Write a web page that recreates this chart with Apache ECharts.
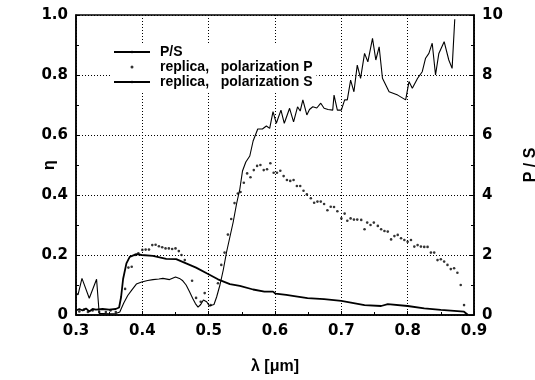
<!DOCTYPE html>
<html>
<head>
<meta charset="utf-8">
<script src="https://cdn.jsdelivr.net/npm/echarts@6/dist/echarts.min.js"></script>
<style>
  html, body { margin: 0; padding: 0; background: #fff; }
  #chart { width: 535px; height: 380px; }
</style>
</head>
<body>
<div id="chart"></div>
<script>
// P/S ratio (right axis), [lambda um, P/S]
const ratioPS = [
  [0.300, 0.75], [0.303, 0.67], [0.309, 1.22], [0.320, 0.56], [0.331, 1.19],
  [0.335, 0.05], [0.340, 0.05], [0.350, 0.04], [0.360, 0.05], [0.366, 0.1],
  [0.372, 0.4], [0.378, 0.65], [0.384, 0.83], [0.391, 1.03], [0.399, 1.1],
  [0.408, 1.15], [0.416, 1.18], [0.425, 1.2], [0.431, 1.22], [0.441, 1.18],
  [0.450, 1.27], [0.456, 1.22], [0.461, 1.14], [0.466, 1.0], [0.471, 0.78],
  [0.476, 0.55], [0.480, 0.38], [0.484, 0.26], [0.488, 0.35], [0.492, 0.5],
  [0.497, 0.44], [0.501, 0.3], [0.504, 0.26], [0.508, 0.35], [0.512, 0.6],
  [0.517, 1.0], [0.522, 1.5], [0.527, 2.1], [0.532, 2.6], [0.537, 3.1],
  [0.542, 3.7], [0.547, 4.2], [0.551, 4.8], [0.556, 5.1], [0.562, 5.3],
  [0.567, 5.8], [0.574, 6.2], [0.581, 6.2], [0.587, 6.3], [0.592, 6.22],
  [0.597, 6.78], [0.602, 6.39], [0.609, 6.83], [0.614, 6.39], [0.622, 6.89],
  [0.628, 6.44], [0.634, 6.94], [0.638, 6.8], [0.642, 7.17], [0.648, 6.67],
  [0.652, 6.85], [0.657, 6.94], [0.663, 6.9], [0.669, 7.06], [0.674, 6.89],
  [0.680, 6.85], [0.687, 6.83], [0.689, 7.33], [0.694, 6.83], [0.700, 6.83],
  [0.705, 7.17], [0.709, 7.17], [0.714, 7.83], [0.719, 7.44], [0.724, 8.33],
  [0.729, 7.89], [0.735, 8.72], [0.740, 8.44], [0.747, 9.22], [0.752, 8.5],
  [0.757, 8.94], [0.762, 7.89], [0.772, 7.44], [0.785, 7.33], [0.797, 7.17],
  [0.802, 7.78], [0.807, 7.56], [0.815, 7.89], [0.822, 8.11], [0.827, 8.56],
  [0.832, 8.72], [0.837, 9.06], [0.842, 8.0], [0.847, 8.72], [0.855, 9.11],
  [0.862, 8.5], [0.867, 8.22], [0.871, 9.86]
];

// replica, polarization S (left axis, eta)
const polS = [
  [0.300, 0.015], [0.305, 0.02], [0.310, 0.015], [0.315, 0.022], [0.320, 0.012],
  [0.325, 0.02], [0.330, 0.018], [0.340, 0.02], [0.350, 0.018], [0.360, 0.02],
  [0.365, 0.025], [0.368, 0.06], [0.371, 0.12], [0.376, 0.172], [0.381, 0.194],
  [0.391, 0.203], [0.399, 0.2], [0.416, 0.197], [0.436, 0.187], [0.451, 0.186],
  [0.466, 0.172], [0.481, 0.158], [0.497, 0.139], [0.514, 0.119], [0.532, 0.103],
  [0.547, 0.097], [0.567, 0.085], [0.584, 0.078], [0.597, 0.078], [0.601, 0.071],
  [0.617, 0.067], [0.629, 0.063], [0.649, 0.056], [0.674, 0.053], [0.700, 0.047],
  [0.735, 0.033], [0.760, 0.03], [0.770, 0.036], [0.800, 0.03], [0.825, 0.022],
  [0.850, 0.017], [0.875, 0.013], [0.885, 0.011], [0.891, 0.0]
];

// replica, polarization P (dots, left axis)
const polP = [
  [0.305, 0.012], [0.312, 0.018], [0.318, 0.01], [0.325, 0.015], [0.335, 0.01],
  [0.345, 0.01], [0.352, 0.015], [0.360, 0.01], [0.374, 0.087], [0.379, 0.158],
  [0.384, 0.161], [0.389, 0.2], [0.394, 0.206], [0.400, 0.217], [0.405, 0.218],
  [0.410, 0.218], [0.415, 0.233], [0.420, 0.234], [0.425, 0.229], [0.430, 0.226],
  [0.435, 0.222], [0.440, 0.222], [0.445, 0.22], [0.450, 0.222], [0.455, 0.213],
  [0.459, 0.2], [0.464, 0.183], [0.475, 0.114], [0.481, 0.057], [0.488, 0.044],
  [0.494, 0.073], [0.503, 0.033], [0.514, 0.106], [0.519, 0.167], [0.524, 0.208],
  [0.529, 0.268], [0.534, 0.32], [0.539, 0.373], [0.544, 0.405], [0.548, 0.41],
  [0.553, 0.441], [0.558, 0.472], [0.563, 0.459], [0.568, 0.483], [0.573, 0.497],
  [0.578, 0.5], [0.583, 0.483], [0.588, 0.486], [0.593, 0.506], [0.598, 0.474],
  [0.603, 0.474], [0.608, 0.481], [0.613, 0.463], [0.618, 0.45], [0.623, 0.447],
  [0.628, 0.45], [0.633, 0.43], [0.638, 0.43], [0.643, 0.414], [0.648, 0.402],
  [0.654, 0.389], [0.659, 0.374], [0.664, 0.378], [0.669, 0.378], [0.674, 0.37],
  [0.679, 0.349], [0.684, 0.361], [0.689, 0.36], [0.694, 0.346], [0.700, 0.322],
  [0.705, 0.338], [0.709, 0.314], [0.714, 0.322], [0.719, 0.318], [0.724, 0.318],
  [0.730, 0.317], [0.735, 0.286], [0.739, 0.308], [0.744, 0.3], [0.749, 0.308],
  [0.755, 0.297], [0.760, 0.286], [0.765, 0.28], [0.770, 0.278], [0.775, 0.252],
  [0.780, 0.263], [0.785, 0.267], [0.790, 0.256], [0.795, 0.25], [0.800, 0.244],
  [0.805, 0.25], [0.810, 0.228], [0.815, 0.233], [0.820, 0.228], [0.825, 0.227],
  [0.830, 0.227], [0.835, 0.208], [0.840, 0.208], [0.845, 0.183], [0.850, 0.186],
  [0.855, 0.178], [0.860, 0.167], [0.865, 0.153], [0.870, 0.156], [0.875, 0.141],
  [0.880, 0.1], [0.885, 0.033]
];

const legendNames = ["P/S", "replica,   polarization P", "replica,   polarization S"];

const LABEL_FONT = "'DejaVu Sans', sans-serif";
const TEXT_FONT = "'Liberation Sans', Arial, sans-serif";
const axisText = { fontFamily: LABEL_FONT, fontWeight: "bold", fontSize: 15, color: "#000" };
const nameText = { fontFamily: TEXT_FONT, fontWeight: "bold", fontSize: 16, color: "#000" };
const dotted = { show: true, lineStyle: { color: "#000", type: [1, 2], width: 1 } };

const chart = echarts.init(document.getElementById("chart"), null, { renderer: "canvas" });

const option = {
  animation: false,
  backgroundColor: "#fff",
  grid: {
    left: 76, right: 61, top: 15, bottom: 65,
    outerBoundsMode: "none",
    containLabel: false,
    show: true, borderColor: "#000", borderWidth: 1.5, backgroundColor: "transparent"
  },
  legend: {
    orient: "vertical",
    left: 110,
    top: 44,
    itemWidth: 36,
    itemHeight: 3,
    itemGap: 1,
    padding: [1, 4, 2, 3],
    backgroundColor: "#fff",
    data: legendNames,
    textStyle: {
      fontFamily: TEXT_FONT, fontWeight: "bold", fontSize: 14, color: "#000",
      lineHeight: 14, padding: [0, 0, 0, 5]
    }
  },
  xAxis: {
    type: "value",
    min: 0.3, max: 0.9, interval: 0.1,
    name: "λ [μm]",
    nameLocation: "middle",
    nameGap: 44,
    nameMoveOverlap: false,
    nameTextStyle: nameText,
    axisLine: { show: true, lineStyle: { color: "#000", width: 1.5 } },
    axisTick: { show: true, inside: true, length: 4, lineStyle: { color: "#000" } },
    minorTick: { show: true, splitNumber: 2, length: 3, lineStyle: { color: "#000" } },
    axisLabel: Object.assign({ margin: 9, formatter: (v) => v.toFixed(1) }, axisText),
    splitLine: dotted
  },
  yAxis: [
    {
      type: "value",
      min: 0, max: 1, interval: 0.2,
      name: "η",
      nameLocation: "middle",
      nameRotate: 90,
      nameGap: 18,
      nameMoveOverlap: false,
      nameTextStyle: nameText,
      axisLine: { show: true, lineStyle: { color: "#000", width: 1.5 } },
      axisTick: { show: true, inside: true, length: 4, lineStyle: { color: "#000" } },
      minorTick: { show: true, splitNumber: 2, length: 3, lineStyle: { color: "#000" } },
      axisLabel: Object.assign({ margin: 8, formatter: (v) => (v === 0 ? "0" : v.toFixed(1)) }, axisText),
      splitLine: dotted
    },
    {
      type: "value",
      position: "right",
      min: 0, max: 10, interval: 2,
      name: "P / S",
      nameLocation: "middle",
      nameRotate: 90,
      nameGap: 49,
      nameMoveOverlap: false,
      nameTextStyle: nameText,
      axisLine: { show: true, lineStyle: { color: "#000", width: 1.5 } },
      axisTick: { show: true, inside: true, length: 4, lineStyle: { color: "#000" } },
      minorTick: { show: true, splitNumber: 2, length: 3, lineStyle: { color: "#000" } },
      axisLabel: Object.assign({ margin: 8 }, axisText),
      splitLine: { show: false }
    }
  ],
  series: [
    {
      name: legendNames[0],
      type: "line",
      yAxisIndex: 1,
      data: ratioPS,
      symbol: "none",
      lineStyle: { color: "#000", width: 1.1 },
      itemStyle: { color: "#000" },
      z: 3
    },
    {
      name: legendNames[1],
      type: "scatter",
      yAxisIndex: 0,
      data: polP,
      symbol: "circle",
      symbolSize: 2.6,
      itemStyle: { color: "#000" },
      z: 4
    },
    {
      name: legendNames[2],
      type: "line",
      yAxisIndex: 0,
      data: polS,
      symbol: "none",
      lineStyle: { color: "#000", width: 1.8 },
      itemStyle: { color: "#000" },
      z: 3
    }
  ]
};

chart.setOption(option);
</script>
</body>
</html>
